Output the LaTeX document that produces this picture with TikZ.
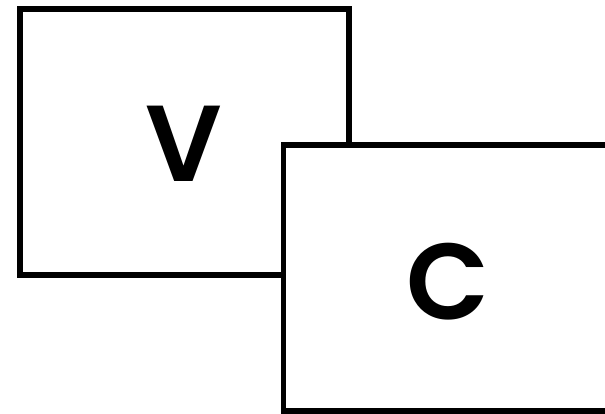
\documentclass[tikz,border=0pt]{standalone}
\usepackage{fontspec}
\setmainfont{Poppins}[BoldFont={Poppins SemiBold}]
\tikzset{
  panel/.style={draw=black, line width=5.5pt, fill=white},
  letter/.style={font=\fontsize{108}{108}\selectfont\bfseries, text=black, inner sep=0pt}
}
\begin{document}
\begin{tikzpicture}[x=1pt,y=1pt]
\useasboundingbox (0,0) rectangle (605,413);
\draw[panel] (20,404) rectangle (349,138);
\node[letter] (v) at (184,269) {V};
\draw[panel] (283.5,268) rectangle (608.5,2);
\node[letter] (c) at (447.5,131) {C};
\end{tikzpicture}
\end{document}
